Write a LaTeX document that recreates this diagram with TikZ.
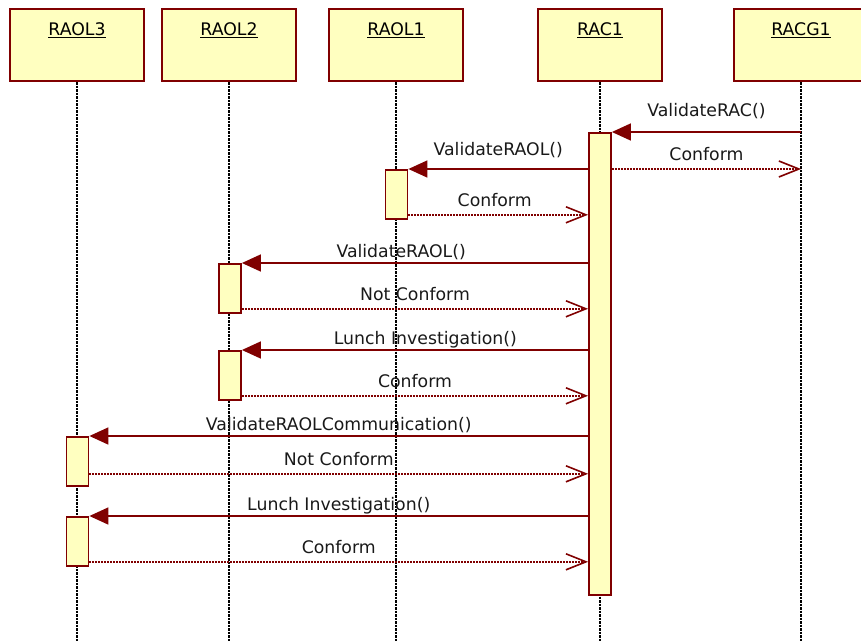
\documentclass[tikz,border=0pt]{standalone}
\usepackage{fontspec}
\setmainfont{DejaVu Sans}
\usetikzlibrary{arrows.meta}

\definecolor{umlred}{RGB}{128,0,0}
\definecolor{umlfill}{RGB}{255,255,192}

\begin{document}
\begin{tikzpicture}[
      x = 1pt, y = -1pt, font = \fontsize{17.3}{20}\selectfont,
      head/.style  = {draw = umlred, fill = umlfill, line width = 2pt,
                      minimum width = 134pt, minimum height = 72pt, inner sep = 0pt},
      htext/.style = {anchor = base, inner sep = 0pt},
      life/.style  = {black, line width = 1.4pt, dash pattern = on 2.5pt off 1pt},
      act/.style   = {draw = umlred, fill = umlfill, line width = 1.8pt, anchor = north,
                      minimum width = 22pt, minimum height = 49pt, inner sep = 0pt},
      call/.style  = {umlred, line width = 1.6pt, -{Triangle[length = 19pt, width = 17pt]}},
      reply/.style = {umlred, line width = 1.5pt, dash pattern = on 2pt off 1pt,
                      -{Straight Barb[length = 20pt, width = 16pt, line width = 1.6pt]}},
      msg/.style   = {anchor = base, inner sep = 0pt, yshift = 6pt, text = black!90},
      ans/.style   = {anchor = base, inner sep = 0pt, yshift = 8.5pt, text = black!90}
    ]

  \useasboundingbox (0,0) rectangle (861,642);

  % ---------- objects --------------------------------------------------
  \node[head] (raol3) at (77,45)  {};
  \node[head] (raol2) at (229,45) {};
  \node[head] (raol1) at (396,45) {};
  \node[head, minimum width = 124pt] (rac1) at (600,45) {};
  \node[head] (racg1) at (801,45) {};

  \foreach \h/\t in {raol3/RAOL3, raol2/RAOL2, raol1/RAOL1, rac1/RAC1, racg1/RACG1}
    \node[htext] at ([yshift = -28pt]\h.north) {\underline{\t}};

  % ---------- lifelines ------------------------------------------------
  \coordinate (bottom) at (0,642);
  \foreach \h in {raol3, raol2, raol1, rac1, racg1}
    \draw[life] (\h.south) -- (\h.south |- bottom);

  % ---------- activations ----------------------------------------------
  \node[act, minimum height = 462pt] (bac) at (600,132) {};
  \node[act] (b1) at (396.5,169) {};
  \node[act] (b2) at (230,263)   {};
  \node[act] (b3) at (230,350)   {};
  \node[act] (b4) at (77.5,436)  {};
  \node[act] (b5) at (77.5,516)  {};

  % ---------- messages -------------------------------------------------
  \draw[call]  (racg1 |- bac.north) -- (bac.north east)
        node[msg, midway, yshift = 10pt] {ValidateRAC()};
  \draw[reply] (bac.east |- b1.north) -- (racg1 |- b1.north)
        node[ans, midway] {Conform};

  \draw[call]  (bac.west |- b1.north) -- (b1.north east)
        node[msg, midway, yshift = 8pt] {ValidateRAOL()};
  \coordinate (r1) at ([yshift = 5pt]b1.south east);
  \draw[reply] (r1) -- (r1 -| bac.west)
        node[ans, pos = 0.48] {Conform};

  \draw[call]  (bac.west |- b2.north) -- (b2.north east)
        node[msg, pos = 0.54] {ValidateRAOL()};
  \coordinate (r2) at ([yshift = 5pt]b2.south east);
  \draw[reply] (r2) -- (r2 -| bac.west)
        node[ans, midway] {Not Conform};

  \draw[call]  (bac.west |- b3.north) -- (b3.north east)
        node[msg, pos = 0.47] {Lunch Investigation()};
  \coordinate (r3) at ([yshift = 5pt]b3.south east);
  \draw[reply] (r3) -- (r3 -| bac.west)
        node[ans, midway] {Conform};

  \draw[call]  (bac.west |- b4.north) -- (b4.north east)
        node[msg, midway] {ValidateRAOLCommunication()};
  \coordinate (r4) at ([yshift = 13pt]b4.south east);
  \draw[reply] (r4) -- (r4 -| bac.west)
        node[ans, midway] {Not Conform};

  \draw[call]  (bac.west |- b5.north) -- (b5.north east)
        node[msg, midway] {Lunch Investigation()};
  \coordinate (r5) at ([yshift = 5pt]b5.south east);
  \draw[reply] (r5) -- (r5 -| bac.west)
        node[ans, midway] {Conform};

\end{tikzpicture}
\end{document}
